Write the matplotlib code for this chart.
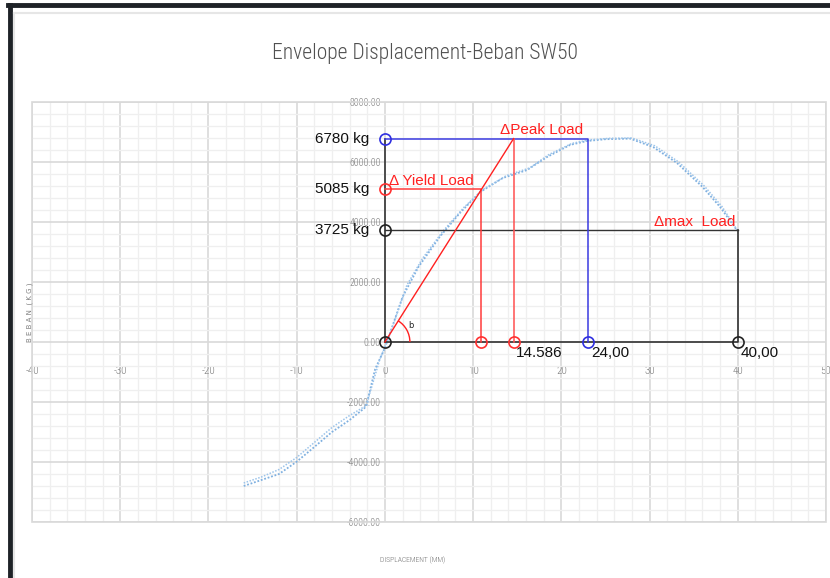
import numpy as np
import matplotlib
matplotlib.use("Agg")
import matplotlib.pyplot as plt
from matplotlib.patches import Rectangle, Arc
from matplotlib.lines import Line2D

# envelope curve (displacement mm, load kg)
disp_a = [-16, -14, -12, -10, -8, -6, -4, -2.3, -2.0, -1.6, -1.1, 0, 2, 3.8, 6.2, 8.5, 10.8, 13.4, 16.1, 18.4, 21, 22.9, 25, 27.8, 30.4, 33.1, 36, 38, 39.9]
load_a = [-4800, -4600, -4400, -3990, -3500, -3000, -2600, -2200, -2000, -1500, -900, -200, 1500, 2500, 3500, 4300, 5000, 5470, 5730, 6170, 6570, 6700, 6760, 6780, 6500, 5970, 5170, 4500, 3730]
disp_b = [-16, -14, -12, -10, -8, -6, -4, -2.0, -1.8, -1.3, -0.6, 0.5, 2.5, 4.3, 6.6, 9.0, 11.2, 13.8, 16.4, 18.6, 21.2, 23.2, 25.5, 28.0, 30.6, 33.3, 36.2, 38.2, 40.0]
load_b = [-4700, -4500, -4250, -3850, -3350, -2850, -2450, -2100, -1800, -1300, -600, 200, 1900, 2800, 3700, 4500, 5100, 5550, 5800, 6250, 6620, 6740, 6790, 6800, 6540, 6000, 5200, 4520, 3700]

yield_d, yield_p = 10.9, 5085
peak_d, peak_p = 14.586, 6780
peak_d2 = 23.0
max_d, max_p = 40.0, 3725

x_ticks = [-40, -30, -20, -10, 0, 10, 20, 30, 40, 50]
y_ticks = [-6000, -4000, -2000, 0, 2000, 4000, 6000, 8000]

narrow = ["Open Sans Condensed Light", "Roboto Condensed", "Yanone Kaffeesatz",
          "Open Sans Condensed", "Fira Sans Condensed", "DejaVu Sans"]

fig = plt.figure(figsize=(8.3, 5.78), dpi=100)
ax = fig.add_axes([32 / 830, 1 - 522 / 578, 794 / 830, 420 / 578])
ax.set_xlim(-40, 50)
ax.set_ylim(-6000, 8000)

# grid
ax.set_xticks(x_ticks)
ax.set_yticks(y_ticks)
ax.set_xticks(np.arange(-40, 51, 2), minor=True)
ax.set_yticks(np.arange(-6000, 8001, 400), minor=True)
ax.grid(True, which="major", color="#d9d9d9", lw=1.2, zorder=0)
ax.grid(True, which="minor", color="#efefef", lw=0.9, zorder=0)
ax.set_axisbelow(True)

for s in ["top", "right"]:
    ax.spines[s].set_visible(False)
ax.spines["left"].set_position(("data", 0))
ax.spines["bottom"].set_position(("data", 0))
ax.spines["left"].set_visible(False)
ax.spines["bottom"].set_visible(False)
ax.tick_params(which="both", length=0)
ax.tick_params(axis="x", pad=17, labelsize=8, labelcolor="#7a7a7a")
ax.tick_params(axis="y", pad=3, labelsize=7, labelcolor="#7a7a7a")
ax.set_xticklabels([str(v) for v in x_ticks], fontfamily=narrow, fontweight="light")
ax.set_yticklabels([f"{v:.2f}" for v in y_ticks], fontfamily=narrow, fontweight="light")
ax.add_patch(Rectangle((0, 0), 1, 1, transform=ax.transAxes, fill=False,
                       ec="#d9d9d9", lw=1.2, zorder=1, clip_on=False))

# envelope curve
ax.plot(disp_a, load_a, color="#7fb0e0", lw=1.3, ls=(0, (1, 1)), zorder=3)
ax.plot(disp_b, load_b, color="#9cc4ea", lw=1.1, ls=(0, (1, 1)), zorder=3)

# black frame
ax.plot([0, max_d, max_d], [0, 0, max_p], color="#333333", lw=1.2, zorder=4)
ax.plot([0, max_d], [max_p, max_p], color="#333333", lw=1.0, zorder=4)
ax.plot([0, 0], [0, peak_p], color="#333333", lw=1.2, zorder=4)
# blue
ax.plot([0, peak_d2, peak_d2], [peak_p, peak_p, 0], color="#3a3ae0", lw=1.1, zorder=4)
# red
ax.plot([0, yield_d, yield_d], [yield_p, yield_p, 0], color="#ff3b3b", lw=1.1, zorder=4)
ax.plot([peak_d, peak_d], [0, peak_p], color="#ff5050", lw=1.1, zorder=4)
ax.plot([0, peak_d], [0, peak_p], color="#ff2020", lw=1.0, zorder=4)

mk = dict(marker="o", ms=8, mfc="none", mew=1.2, ls="none", zorder=5)
ax.plot([0, max_d, 0], [max_p, 0, 0], mec="#222222", **mk)
ax.plot([0, peak_d2], [peak_p, 0], mec="#2f2fe0", **mk)
ax.plot([0, yield_d, peak_d], [yield_p, 0, 0], mec="#ff3030", **mk)

# angle arc near origin (drawn in pixel space)
r = 25
ang = np.degrees(np.arctan((peak_p / 14000 * 420) / (peak_d / 90 * 794)))
arc = Arc(ax.transData.transform((0, 0)), 2 * r, 2 * r, theta1=0, theta2=ang,
          transform=None, color="#ff2020", lw=1.0, zorder=5)
ax.add_artist(arc)
ax.text(2.6, 450, "b", fontsize=6, color="#222222", zorder=6)

lab = dict(fontsize=11, family="Liberation Sans", zorder=6)
ax.text(-1.8, peak_p, "6780 kg", ha="right", va="center", color="#111111", **lab)
ax.text(-1.8, yield_p, "5085 kg", ha="right", va="center", color="#111111", **lab)
ax.text(-1.8, max_p, "3725 kg", ha="right", va="center", color="#111111", **lab)
ax.text(0.5, yield_p + 60, "\u0394 Yield Load", ha="left", va="bottom", color="#ff2020", **lab)
ax.text(13.0, peak_p + 60, "\u0394Peak Load", ha="left", va="bottom", color="#ff2020", **lab)
ax.text(30.5, max_p + 40, "\u0394max  Load", ha="left", va="bottom", color="#ff2020", **lab)
ax.text(14.8, -120, "14.586", ha="left", va="top", color="#111111", **lab)
ax.text(23.4, -120, "24,00", ha="left", va="top", color="#111111", **lab)
ax.text(40.3, -120, "40,00", ha="left", va="top", color="#111111", **lab)

fig.text(425 / 830, 1 - 54 / 578, "Envelope Displacement-Beban SW50", ha="center", va="center",
         fontsize=15.5, color="#505050", family=narrow, weight="light")
fig.text(413 / 830, 1 - 560 / 578, "DISPLACEMENT (MM)", ha="center", va="center",
         fontsize=5.5, color="#6f6f6f", family=narrow, weight="light")
fig.text(30 / 830, 1 - 312 / 578, "B E B A N  ( K G )", ha="center", va="center", rotation=90,
         fontsize=5, color="#7f7f7f", family="DejaVu Sans")

# screenshot frame
fig.add_artist(Line2D([9.5 / 830, 9.5 / 830], [0, 1 - 5 / 578], color="#1e2227", lw=3.5))
fig.add_artist(Line2D([8 / 830, 1], [1 - 5 / 578, 1 - 5 / 578], color="#1e2227", lw=3.5))
fig.add_artist(Line2D([14 / 830, 1], [1 - 13 / 578, 1 - 13 / 578], color="#e6e6e6", lw=1.5))
fig.add_artist(Line2D([14 / 830, 14 / 830], [0, 1 - 13 / 578], color="#e6e6e6", lw=1.5))

fig.savefig("out.png", dpi=100)
